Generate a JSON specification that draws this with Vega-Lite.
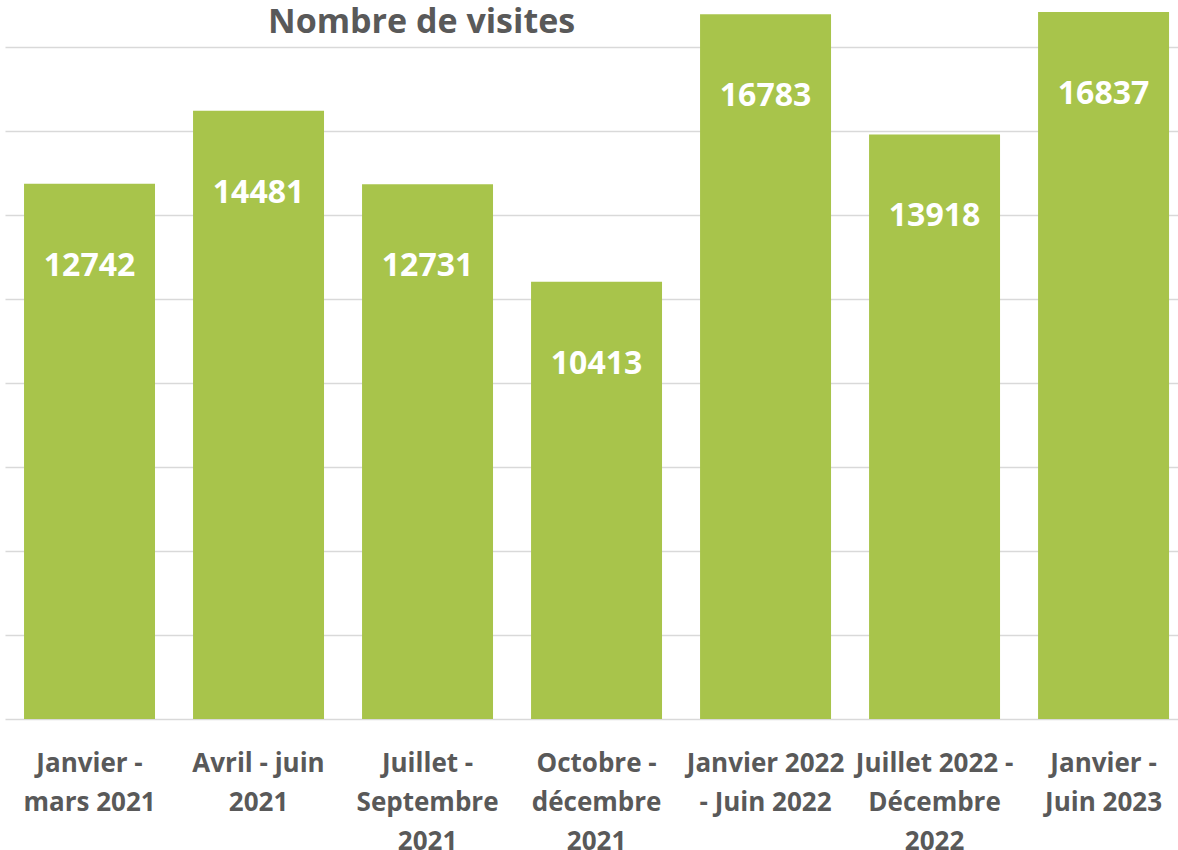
{
  "$schema": "https://vega.github.io/schema/vega-lite/v6.json",
  "autosize": {"type": "none"},
  "padding": {"left": 5, "top": 0, "right": 0, "bottom": 131},
  "width": 1173,
  "height": 719,
  "background": "white",
  "title": {
    "text": "Nombre de visites",
    "anchor": "start",
    "frame": "group",
    "dx": 263,
    "offset": -40,
    "font": "Open Sans",
    "fontSize": 34,
    "fontWeight": "bold",
    "color": "#595959"
  },
  "data": {
    "values": [
      {"periode": "Janvier -|mars 2021", "visites": 12742},
      {"periode": "Avril - juin|2021", "visites": 14481},
      {"periode": "Juillet -|Septembre|2021", "visites": 12731},
      {"periode": "Octobre -|décembre|2021", "visites": 10413},
      {"periode": "Janvier 2022|- Juin 2022", "visites": 16783},
      {"periode": "Juillet 2022 -|Décembre|2022", "visites": 13918},
      {"periode": "Janvier -|Juin 2023", "visites": 16837}
    ]
  },
  "encoding": {
    "x": {
      "field": "periode",
      "type": "nominal",
      "sort": null,
      "scale": {"paddingInner": 0.225, "paddingOuter": 0.0828, "align": 0.68},
      "axis": {
        "title": null,
        "labelAngle": 0,
        "labelExpr": "split(datum.label, '|')",
        "labelFont": "Open Sans",
        "labelFontSize": 26,
        "labelFontWeight": "bold",
        "labelColor": "#595959",
        "labelLineHeight": 39,
        "labelBaseline": "top",
        "labelPadding": 31,
        "labelOverlap": false,
        "labelLimit": 0,
        "labelBound": false,
        "labelFlush": false,
        "ticks": false,
        "domain": false
      }
    },
    "y": {
      "field": "visites",
      "type": "quantitative",
      "scale": {"domain": [0, 17120], "nice": false, "zero": true},
      "axis": {
        "title": null,
        "labels": false,
        "ticks": false,
        "domain": false,
        "grid": true,
        "values": [0, 2000, 4000, 6000, 8000, 10000, 12000, 14000, 16000],
        "gridColor": "#d9d9d9",
        "gridWidth": 1.5
      }
    }
  },
  "layer": [
    {"mark": {"type": "bar", "color": "#a8c44b"}},
    {
      "mark": {
        "type": "text",
        "color": "white",
        "font": "Open Sans",
        "fontSize": 32,
        "fontWeight": "bold",
        "baseline": "middle",
        "dy": 82
      },
      "encoding": {"text": {"field": "visites", "type": "quantitative", "format": "d"}}
    }
  ],
  "config": {"view": {"stroke": null}}
}
